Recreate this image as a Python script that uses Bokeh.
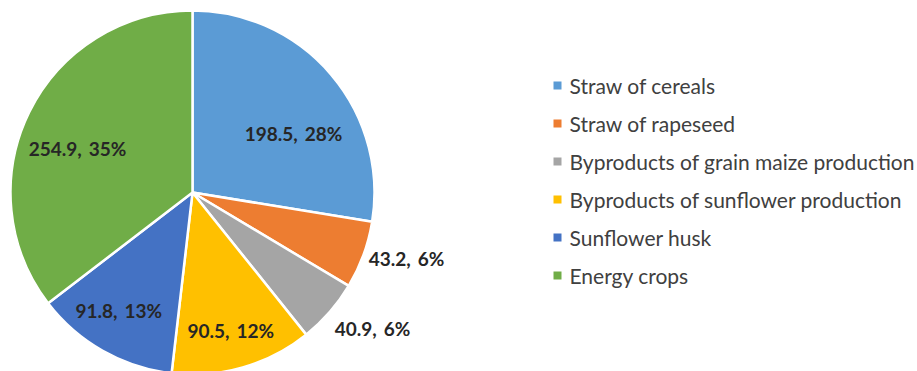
import math
from bokeh.plotting import figure
from bokeh.models import Range1d, ColumnDataSource
from bokeh.core.properties import value
from bokeh.embed import file_html
from bokeh.resources import INLINE

# ---- data ----
categories = ["Straw of cereals", "Straw of rapeseed", "Byproducts of grain maize production",
              "Byproducts of sunflower production", "Sunflower husk", "Energy crops"]
values = [198.5, 43.2, 40.9, 90.5, 91.8, 254.9]
percents = [28, 6, 6, 12, 13, 35]
colors = ["#5B9BD5", "#ED7D31", "#A5A5A5", "#FFC000", "#4472C4", "#70AD47"]

# ---- layout (pixels) ----
W, H = 917, 371
cx, cy_pix, R = 192, 192, 182
label_rfac = [0.643, 1.23, 1.24, 0.786, 0.764, 0.676]
label_dang = [10.0, -3.0, -4.0, 0.5, 2.5, -5.4]
leg_x, leg_y0, leg_step = 557, 85, 38

def Y(py):
    return H - py

p = figure(width=W, height=H, output_backend="svg", toolbar_location=None,
           x_range=Range1d(0, W), y_range=Range1d(0, H), min_border=0)
p.axis.visible = False
p.grid.visible = False
p.outline_line_color = None
p.background_fill_color = "white"
p.border_fill_color = "white"

total = sum(values)
starts, ends, lx, ly, labels = [], [], [], [], []
cum = 0.0
for i, v in enumerate(values):
    a0 = math.pi / 2 - 2 * math.pi * cum / total
    cum += v
    a1 = math.pi / 2 - 2 * math.pi * cum / total
    starts.append(a0)
    ends.append(a1)
    mid = (a0 + a1) / 2 - math.radians(label_dang[i])
    r = R * label_rfac[i]
    lx.append(cx + r * math.cos(mid))
    ly.append(Y(cy_pix) + r * math.sin(mid))
    labels.append(f"{v},\u00a0\u2009{percents[i]}%")

src = ColumnDataSource(dict(start=starts, end=ends, color=colors))
p.wedge(x=cx, y=Y(cy_pix), radius=R, start_angle="start", end_angle="end",
        direction="clock", fill_color="color", line_color="white", line_width=2.5, source=src)

lsrc = ColumnDataSource(dict(x=lx, y=ly, t=labels))
p.text(x="x", y="y", text="t", source=lsrc, text_font=value("Lato"), text_font_style="bold",
       text_font_size="19px", text_color="#262626", text_align="center", text_baseline="middle")

# legend
ley = [Y(leg_y0 + i * leg_step) for i in range(len(categories))]
legsrc = ColumnDataSource(dict(x=[leg_x] * len(categories), tx=[leg_x + 12] * len(categories),
                               y=ley, c=colors, t=categories))
p.scatter(x="x", y="y", marker="square", size=8, fill_color="c", line_color=None, source=legsrc)
p.text(x="tx", y="y", text="t", source=legsrc, text_font=value("Lato"), text_font_size="21px",
       text_color="#404040", text_align="left", text_baseline="middle")

open("out.html", "w").write(file_html(p, INLINE))
